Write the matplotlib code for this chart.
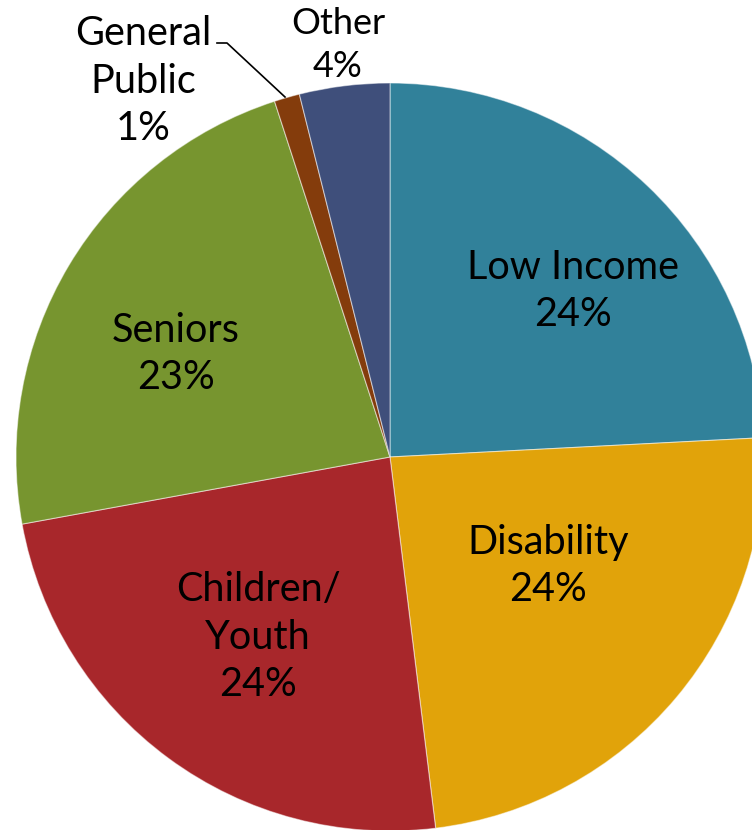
import matplotlib
matplotlib.use("Agg")
import matplotlib.pyplot as plt

categories = ["Low Income", "Disability", "Children/\nYouth", "Seniors", "General\nPublic", "Other"]
values = [24.2, 23.9, 24.1, 22.9, 1.1, 3.9]
pct_labels = ["24%", "24%", "24%", "23%", "1%", "4%"]
colors = ["#31819A", "#E1A30A", "#A8272B", "#77952F", "#843C0C", "#3F4F7B"]

plt.rcParams['font.family'] = ['Lato', 'DejaVu Sans']

fig = plt.figure(figsize=(7.52, 8.30), dpi=100)
W, H = 752, 830
cx, cy, r = 390, 457, 374
ax = fig.add_axes([(cx - r) / W, (H - cy - r) / H, 2 * r / W, 2 * r / H])

wedges, _ = ax.pie(values, colors=colors, startangle=90, counterclock=False, radius=1,
                   wedgeprops=dict(edgecolor=(1, 1, 1, 0.5), linewidth=0.8))
for w in wedges:
    w.set_clip_on(False)
ax.set_xlim(-1, 1)
ax.set_ylim(-1, 1)
ax.set_aspect('auto')
ax.axis('off')

def px(x, y):
    return ((x - cx) / r, (cy - y) / r)

label_pos = [(573, 291), (548, 566), (258, 637), (176, 354), (143, 81), (338, 45)]
sizes = [28.5, 28.5, 28.5, 28.5, 28.5, 26]
for cat, pct, (x, y), s in zip(categories, pct_labels, label_pos, sizes):
    ax.text(*px(x, y), f"{cat}\n{pct}", ha='center', va='center', fontsize=s,
            color='black', linespacing=1.36, clip_on=False)

# leader line for General Public
pts = [px(217, 43), px(227, 43), px(285, 97)]
ax.plot([p[0] for p in pts], [p[1] for p in pts], color='black', lw=1.2, clip_on=False)

fig.savefig("out.png", dpi=100)
